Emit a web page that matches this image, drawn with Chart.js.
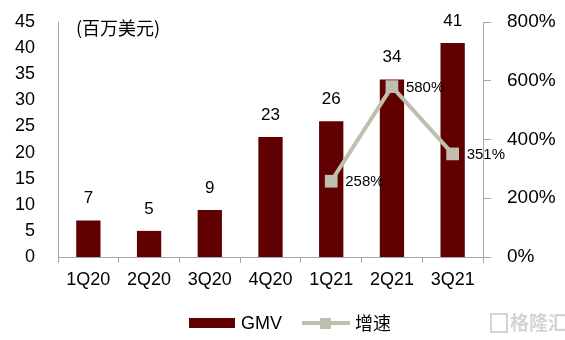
<!DOCTYPE html>
<html>
<head>
<meta charset="utf-8">
<script src="https://cdn.jsdelivr.net/npm/chart.js@4"></script>
<style>
  body { margin: 0; background: #fff; }
  #wrap { width: 565px; height: 340px; position: relative; }
</style>
</head>
<body>
<div id="wrap"><canvas id="myChart" width="565" height="340"></canvas></div>
<script>
const labels = ['1Q20', '2Q20', '3Q20', '4Q20', '1Q21', '2Q21', '3Q21'] // catégories
const gmv = [7, 5, 9, 23, 26, 34, 41] // GMV (百万美元)
const growth = [null, null, null, null, 258, 580, 351] // 增速 (%)
const leftTicks = [0, 5, 10, 15, 20, 25, 30, 35, 40, 45]
const rightTicks = [0, 200, 400, 600, 800]

const FONT = "'Liberation Sans', Arial, 'Noto Sans CJK SC', sans-serif"
const CJK = "'Noto Sans CJK SC', 'Liberation Sans', sans-serif"
const barColor = '#600000'
const lineColor = '#bfbeaf'
const axisColor = '#a6a6a6'

// étiquettes, titre et légende dessinés à la main
const extras = {
  id: 'extras',
  afterDatasetsDraw(chart) {
    const c = chart.ctx
    c.save()
    c.fillStyle = '#000'
    c.font = '17px ' + FONT
    c.textAlign = 'center'
    c.textBaseline = 'middle'
    chart.getDatasetMeta(1).data.forEach((bar, i) => {
      c.fillText(gmv[i], bar.x, bar.y - 22)
    })
    c.font = '15px ' + FONT
    c.textAlign = 'left'
    chart.getDatasetMeta(0).data.forEach((pt, i) => {
      if (growth[i] == null) return
      c.fillText(growth[i] + '%', pt.x + 14, pt.y + 1)
    })
    // titre
    c.font = '18px ' + CJK
    c.fillText('(百万美元)', 76, 28)
    // légende
    const ly = 323
    c.fillStyle = barColor
    c.fillRect(189, ly - 5, 46, 10)
    c.fillStyle = '#000'
    c.font = '18px ' + FONT
    c.fillText('GMV', 241, ly + 1)
    c.strokeStyle = lineColor
    c.lineWidth = 4
    c.beginPath()
    c.moveTo(302, ly)
    c.lineTo(350, ly)
    c.stroke()
    c.fillStyle = lineColor
    c.fillRect(320, ly - 5, 11, 11)
    c.fillStyle = '#000'
    c.font = '18px ' + CJK
    c.fillText('增速', 355, ly)
    // filigrane
    c.fillStyle = '#d4d4d4'
    c.font = 'bold 19px ' + CJK
    c.fillText('格隆汇', 510, ly)
    c.strokeStyle = '#d4d4d4'
    c.lineWidth = 2
    c.strokeRect(491, ly - 9, 16, 18)
    c.restore()
  }
}

const ctx = document.getElementById('myChart')

new Chart(ctx, {
  data: {
    labels: labels,
    datasets: [
      {
        type: 'line',
        label: '增速',
        data: growth,
        yAxisID: 'y1',
        borderColor: lineColor,
        backgroundColor: lineColor,
        borderWidth: 4,
        pointStyle: 'rect',
        pointRadius: 9,
        pointBorderWidth: 0,
        order: 0
      },
      {
        type: 'bar',
        label: 'GMV',
        data: gmv,
        yAxisID: 'y',
        backgroundColor: barColor,
        categoryPercentage: 1,
        barPercentage: 0.4,
        order: 1
      }
    ]
  },
  options: {
    responsive: false,
    animation: false,
    layout: { padding: { top: 22, left: 0, right: 0, bottom: 0 } },
    plugins: { legend: { display: false }, tooltip: { enabled: false } },
    scales: {
      x: {
        grid: { offset: true, drawOnChartArea: false, tickLength: 6, color: axisColor },
        border: { color: axisColor, width: 1 },
        ticks: { color: '#000', font: { size: 18, family: FONT }, padding: 6 },
        afterFit: (s) => { s.height = 83 }
      },
      y: {
        position: 'left',
        min: 0,
        max: 45,
        afterBuildTicks: (s) => { s.ticks = leftTicks.map((v) => ({ value: v })) },
        grid: { display: false, tickLength: 0 },
        border: { color: axisColor, width: 1 },
        ticks: { color: '#000', font: { size: 18, family: FONT }, padding: 23 },
        afterFit: (s) => { s.width = 58; s.paddingTop = 0; s.paddingBottom = 0 }
      },
      y1: {
        position: 'right',
        min: 0,
        max: 800,
        afterBuildTicks: (s) => { s.ticks = rightTicks.map((v) => ({ value: v })) },
        grid: { drawOnChartArea: false, tickLength: 8, color: axisColor },
        border: { color: axisColor, width: 1 },
        ticks: { color: '#000', font: { size: 19, family: FONT }, padding: 16, callback: (v) => v + '%' },
        afterFit: (s) => { s.width = 82; s.paddingTop = 0; s.paddingBottom = 0 }
      }
    }
  },
  plugins: [extras]
})
</script>
</body>
</html>
